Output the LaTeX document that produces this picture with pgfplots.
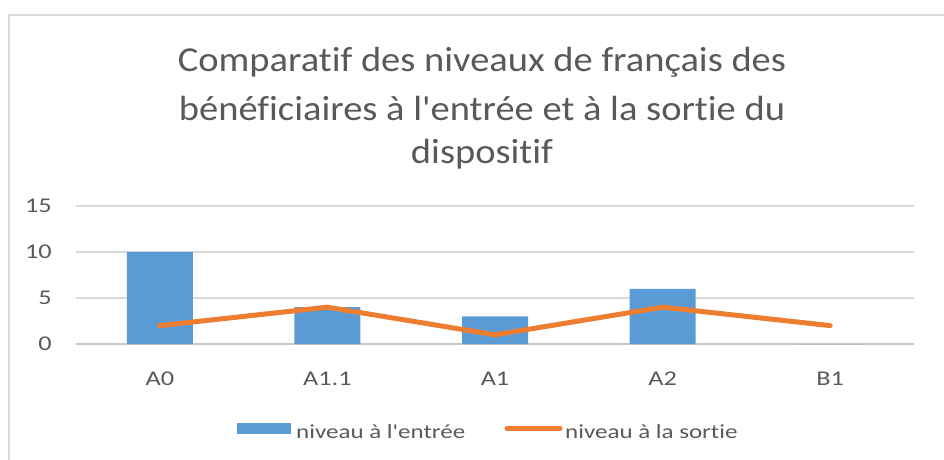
\documentclass[border=0pt]{standalone}
\usepackage{pgfplots}
\pgfplotsset{compat=1.18}
\usepackage{fontspec}
\newfontfamily\titlefont{Carlito}[FakeStretch=1.1, Ligatures=NoCommon]
\newfontfamily\labelfont{Carlito}[FakeStretch=1.25, Ligatures=NoCommon]
\definecolor{barblue}{HTML}{5B9BD5}
\definecolor{lineorange}{HTML}{ED7D31}
\definecolor{gridgray}{HTML}{D9D9D9}
\definecolor{axisgray}{HTML}{C8C8C8}
\definecolor{txtgray}{HTML}{595959}
\begin{document}
\begin{tikzpicture}[x=1pt,y=1pt]
\useasboundingbox (0,0) rectangle (944,459);
\draw[gridgray, line width=1.4pt] (9,-5) -- (9,444) -- (950,444);
\node[txtgray, anchor=base, inner sep=0pt, font=\titlefont\fontsize{35}{40}\selectfont] at (482,388) {Comparatif des niveaux de français des};
\node[txtgray, anchor=base, inner sep=0pt, font=\titlefont\fontsize{35}{40}\selectfont] at (482,339) {bénéficiaires à l'entrée et à la sortie du};
\node[txtgray, anchor=base, inner sep=0pt, font=\titlefont\fontsize{35}{40}\selectfont] at (482,296) {dispositif};
\begin{axis}[
  at={(76pt,115pt)}, anchor=south west,
  scale only axis, width=838pt, height=138pt,
  xmin=-0.5, xmax=4.5, ymin=0, ymax=15,
  xtick={0,1,2,3,4}, xticklabels={A0,A1.1,A1,A2,B1},
  ytick={0,5,10,15},
  axis line style={draw=none},
  ymajorgrids, grid style={gridgray, line width=1.2pt},
  major tick length=0pt,
  tick label style={txtgray, font=\labelfont\fontsize{21}{24}\selectfont},
  /pgf/number format/assume math mode=true,
  xticklabel style={anchor=base, inner sep=0pt, yshift=-41pt},
  yticklabel style={anchor=east, inner sep=0pt, xshift=-24pt},
  clip=false,
]
\draw[axisgray, line width=1.4pt] (axis cs:-0.5,0) -- (axis cs:4.5,0);
\addplot[ybar, bar width=66pt, fill=barblue, draw=none, forget plot] coordinates {(0,10) (1,4) (2,3) (3,6) (4,0)};
\addplot[lineorange, line width=5pt, line join=round, line cap=round, mark=none] coordinates {(0,2) (1,4) (2,1) (3,4) (4,2)};
\end{axis}
% legend
\fill[barblue] (237,25) rectangle (291,36);
\node[txtgray, anchor=base west, inner sep=0pt, font=\labelfont\fontsize{20}{24}\selectfont] at (296,21) {niveau à l'entrée};
\draw[lineorange, line width=5pt, line cap=round] (507,30.5) -- (560,30.5);
\node[txtgray, anchor=base west, inner sep=0pt, font=\labelfont\fontsize{20}{24}\selectfont] at (565,21) {niveau à la sortie};
\end{tikzpicture}
\end{document}
